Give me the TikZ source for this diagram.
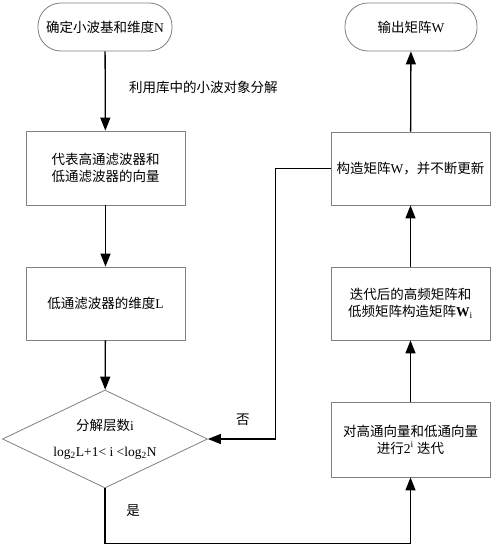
\documentclass[tikz,border=0pt]{standalone}
\usepackage{fontspec}
\setmainfont{Liberation Serif}
\newfontfamily\cjk{Noto Sans CJK SC}
\usetikzlibrary{shapes.geometric,arrows.meta}

\begin{document}
\begin{tikzpicture}[x=1pt,y=-1pt,
	font=\fontsize{13.5}{17}\selectfont,
	box/.style={draw=gray,line width=0.8pt,minimum width=159pt,minimum height=74pt,align=center},
	term/.style={draw=gray,line width=0.8pt,rounded corners=23pt,minimum height=48pt},
	cond/.style={draw=gray,line width=0.8pt,diamond,aspect=2.1,inner sep=0pt,minimum width=205pt,minimum height=98pt,align=center},
	flow/.style={line width=1.3pt,-{Triangle[length=13pt,width=10pt]}}]
	\useasboundingbox (0,0) rectangle (491,546);

	% left column
	\node[term,minimum width=134pt] (start) at (105,27) {{\cjk 确定小波基和维度}N};
	\node[box] (vec) at (105.5,168) {{\cjk 代表高通滤波器和}\\{\cjk 低通滤波器的向量}};
	\node[box,minimum height=73pt] (dimL) at (105.5,303.5) {{\cjk 低通滤波器的维度}L};
	\node[cond] (dec) at (105,439) {{\cjk 分解层数}i\\[9pt]log\textsubscript{2}L+1< i <log\textsubscript{2}N};

	% right column
	\node[box,minimum height=75pt] (iter) at (410.5,439.5) {{\cjk 对高通向量和低通向量}\\{\cjk 进行}2\textsuperscript{i} {\cjk 迭代}};
	\node[box,minimum height=73pt] (buildWi) at (410.5,303.5) {{\cjk 迭代后的高频矩阵和}\\{\cjk 低频矩阵构造矩阵}\textbf{W}\textsubscript{i}};
	\node[box,minimum height=73pt] (buildW) at (410.5,168.5) {{\cjk 构造矩阵}W{\cjk ，并不断更新}};
	\node[term,minimum width=132pt] (out) at (411,27) {{\cjk 输出矩阵}W};

	\draw[flow] (start) -- (vec) node[pos=0.45,right=20pt] {\cjk 利用库中的小波对象分解};
	\draw[flow] (vec) -- (dimL);
	\draw[flow] (dimL) -- (dec);
	\draw[flow] (dec.south) -- ++(0,55) -| (iter.south);
	\draw[flow] (iter) -- (buildWi);
	\draw[flow] (buildWi) -- (buildW);
	\draw[flow] (buildW) -- (out);
	\draw[flow] (buildW.west) -- ++(-55,0) |- (dec.east);

	\path (dec.south) ++(28,22) node {\cjk 是};
	\path (dec.east) ++(35,-19) node {\cjk 否};
\end{tikzpicture}
\end{document}
